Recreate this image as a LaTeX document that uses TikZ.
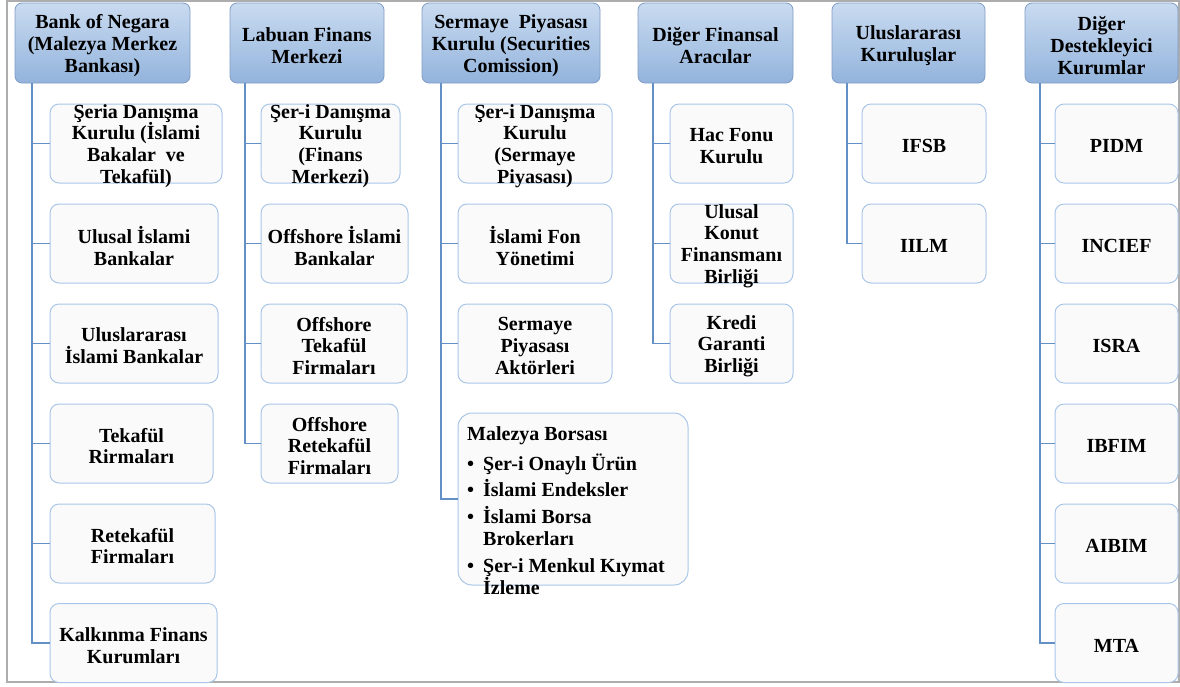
\documentclass[tikz,border=0pt]{standalone}
\usepackage{fontspec}
\setmainfont{Liberation Serif}
\definecolor{hdrtop}{HTML}{C9DBF0}
\definecolor{hdrbot}{HTML}{93B3DC}
\definecolor{hdrline}{HTML}{7F9CC4}
\definecolor{cline}{HTML}{A9C6E8}
\definecolor{cfill}{HTML}{FAFAFA}
\definecolor{conncol}{HTML}{6390C6}
\definecolor{framecol}{HTML}{ADADAD}
\tikzset{
  hdr/.style={draw=hdrline, line width=0.8pt, rounded corners=7pt, top color=hdrtop, bottom color=hdrbot,
    inner sep=0pt, minimum height=80pt},
  cbox/.style={draw=cline, line width=1pt, rounded corners=9pt, fill=cfill, inner sep=0pt, minimum height=79pt},
  ctext/.style={align=center, inner sep=0pt, yshift=-2.5pt, font=\fontsize{20}{21.7}\selectfont\bfseries},
  conn/.style={draw=conncol, line width=1.8pt},
}
\begin{document}
\begin{tikzpicture}[x=1pt,y=-1pt]
\useasboundingbox (0,0) rectangle (1180,686);
\draw[framecol, line width=1.5pt] (7,1) rectangle (1179,682);
% headers
\node[hdr, minimum width=175pt] (h1) at (102.5,43) {};
\node[ctext] at (h1) {Bank of Negara\\(Malezya Merkez\\Bankası)};
\node[hdr, minimum width=154pt] (h2) at (307,43) {};
\node[ctext] at (h2) {Labuan Finans\\Merkezi};
\node[hdr, minimum width=178pt] (h3) at (511,43) {};
\node[ctext] at (h3) {Sermaye~ Piyasası\\Kurulu (Securities\\Comission)};
\node[hdr, minimum width=155pt] (h4) at (715.5,43) {};
\node[ctext] at (h4) {Diğer Finansal\\Aracılar};
\node[hdr, minimum width=153pt] (h5) at (908.5,43) {};
\node[ctext] at (h5) {Uluslararası\\Kuruluşlar};
\node[hdr, minimum width=153pt] (h6) at (1101.5,43) {};
\node[ctext] at (h6) {Diğer\\Destekleyici\\Kurumlar};
% column 1
\node[cbox, minimum width=172pt] (c11) at (136,143.5) {};
\node[ctext] at (c11) {Şeria Danışma\\Kurulu (İslami\\Bakalar~ ve\\Tekafül)};
\node[cbox, minimum width=168pt] (c12) at (134,243.5) {};
\node[ctext] at (c12) {Ulusal İslami\\Bankalar};
\node[cbox, minimum width=168pt] (c13) at (134,343.5) {};
\node[ctext] at (c13) {Uluslararası\\İslami Bankalar};
\node[cbox, minimum width=163pt] (c14) at (131.5,443.5) {};
\node[ctext] at (c14) {Tekafül\\Rirmaları};
\node[cbox, minimum width=165pt] (c15) at (132.5,543.5) {};
\node[ctext] at (c15) {Retekafül\\Firmaları};
\node[cbox, minimum width=167pt] (c16) at (133.5,643) {};
\node[ctext] at (c16) {Kalkınma Finans\\Kurumları};
\foreach \c in {c11,c12,c13,c14,c15,c16}
  \draw[conn] ([xshift=17pt]h1.south west) |- (\c.west);
% column 2
\node[cbox, minimum width=139pt] (c21) at (330.5,143.5) {};
\node[ctext] at (c21) {Şer-i Danışma\\Kurulu\\(Finans\\Merkezi)};
\node[cbox, minimum width=147pt] (c22) at (334.5,243.5) {};
\node[ctext] at (c22) {Offshore İslami\\Bankalar};
\node[cbox, minimum width=146pt] (c23) at (334,343.5) {};
\node[ctext] at (c23) {Offshore\\Tekafül\\Firmaları};
\node[cbox, minimum width=137pt] (c24) at (329.5,443.5) {};
\node[ctext] at (c24) {Offshore\\Retekafül\\Firmaları};
\foreach \c in {c21,c22,c23,c24}
  \draw[conn] ([xshift=15pt]h2.south west) |- (\c.west);
% column 3
\node[cbox, minimum width=154pt] (c31) at (535,143.5) {};
\node[ctext] at (c31) {Şer-i Danışma\\Kurulu\\(Sermaye\\Piyasası)};
\node[cbox, minimum width=154pt] (c32) at (535,243.5) {};
\node[ctext] at (c32) {İslami Fon\\Yönetimi};
\node[cbox, minimum width=154pt] (c33) at (535,343.5) {};
\node[ctext] at (c33) {Sermaye\\Piyasası\\Aktörleri};
\node[cbox, minimum width=230pt, minimum height=172pt, rounded corners=14pt] (c34) at (573,499) {};
\node[ctext, align=left, anchor=north west, yshift=0pt] at (467,424) {Malezya Borsası\\[8pt]
\makebox[16pt][l]{•}Şer-i Onaylı Ürün\\[5pt]
\makebox[16pt][l]{•}İslami Endeksler\\[5pt]
\makebox[16pt][l]{•}İslami Borsa\\
\hspace*{16pt}Brokerları\\[5pt]
\makebox[16pt][l]{•}Şer-i Menkul Kıymat\\[1pt]
\hspace*{16pt}İzleme};
\foreach \c in {c31,c32,c33,c34}
  \draw[conn] ([xshift=19pt]h3.south west) |- (\c.west);
% column 4
\node[cbox, minimum width=123pt] (c41) at (731.5,143.5) {};
\node[ctext] at (c41) {Hac Fonu\\Kurulu};
\node[cbox, minimum width=123pt] (c42) at (731.5,243.5) {};
\node[ctext] at (c42) {Ulusal\\Konut\\Finansmanı\\Birliği};
\node[cbox, minimum width=123pt] (c43) at (731.5,343.5) {};
\node[ctext] at (c43) {Kredi\\Garanti\\Birliği};
\foreach \c in {c41,c42,c43}
  \draw[conn] ([xshift=15pt]h4.south west) |- (\c.west);
% column 5
\node[cbox, minimum width=124pt] (c51) at (924,143.5) {};
\node[ctext] at (c51) {IFSB};
\node[cbox, minimum width=124pt] (c52) at (924,243.5) {};
\node[ctext] at (c52) {IILM};
\foreach \c in {c51,c52}
  \draw[conn] ([xshift=15pt]h5.south west) |- (\c.west);
% column 6
\node[cbox, minimum width=123pt] (c61) at (1116.5,143.5) {};
\node[ctext] at (c61) {PIDM};
\node[cbox, minimum width=123pt] (c62) at (1116.5,243.5) {};
\node[ctext] at (c62) {INCIEF};
\node[cbox, minimum width=123pt] (c63) at (1116.5,343.5) {};
\node[ctext] at (c63) {ISRA};
\node[cbox, minimum width=123pt] (c64) at (1116.5,443.5) {};
\node[ctext] at (c64) {IBFIM};
\node[cbox, minimum width=123pt] (c65) at (1116.5,543.5) {};
\node[ctext] at (c65) {AIBIM};
\node[cbox, minimum width=123pt] (c66) at (1116.5,643) {};
\node[ctext] at (c66) {MTA};
\foreach \c in {c61,c62,c63,c64,c65,c66}
  \draw[conn] ([xshift=15pt]h6.south west) |- (\c.west);
\end{tikzpicture}
\end{document}
